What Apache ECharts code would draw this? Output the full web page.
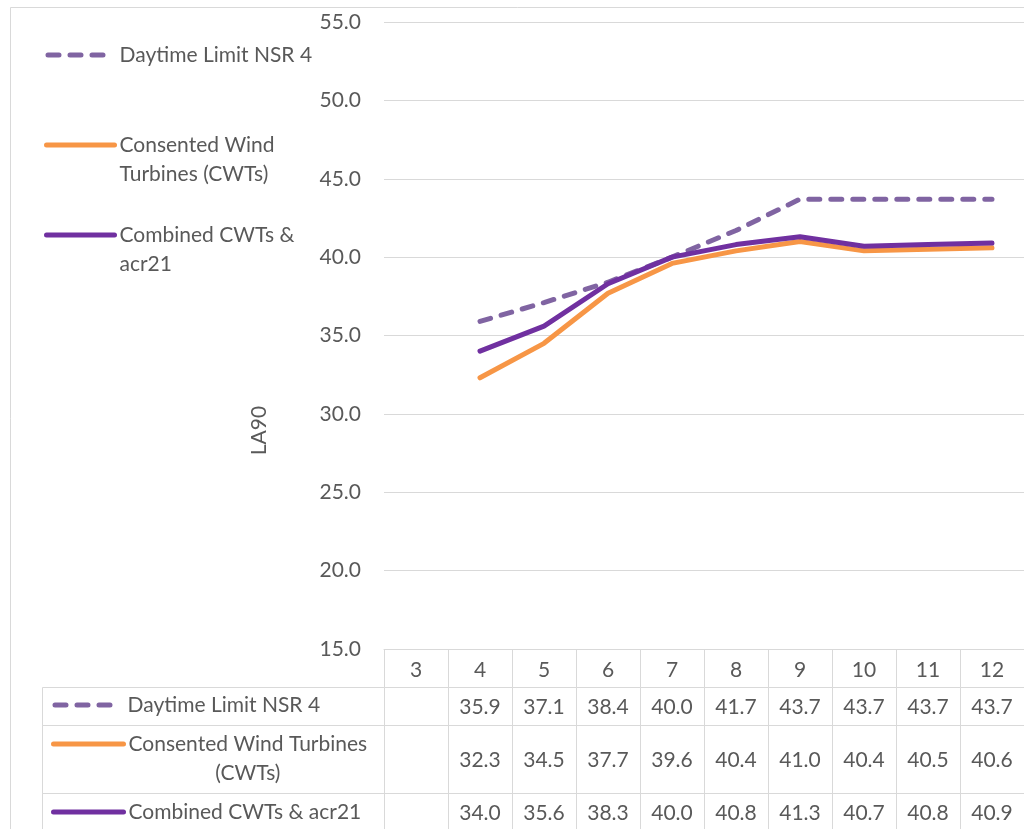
<!DOCTYPE html>
<html><head><meta charset="utf-8">
<script src="https://cdn.jsdelivr.net/npm/echarts@6/dist/echarts.min.js"></script>
<style>html,body{margin:0;padding:0;background:#fff}#c{width:1024px;height:829px}</style>
</head><body><div id="c"></div>
<script>
// ---- data ----
const categories = ['3', '4', '5', '6', '7', '8', '9', '10', '11', '12'];
const daytimeLimit = [null, 35.9, 37.1, 38.4, 40.0, 41.7, 43.7, 43.7, 43.7, 43.7];
const consented   = [null, 32.3, 34.5, 37.7, 39.6, 40.4, 41.0, 40.4, 40.5, 40.6];
const combined    = [null, 34.0, 35.6, 38.3, 40.0, 40.8, 41.3, 40.7, 40.8, 40.9];
const seriesNames = ['Daytime Limit NSR 4', 'Consented Wind Turbines (CWTs)', 'Combined CWTs & acr21'];
const yMin = 15, yMax = 55, yStep = 5;

// ---- style ----
const FONT = 'Lato';
const FS = 21;
const TXT = '#595959';
const GRID = '#D9D9D9';
const COLORS = ['#8064A2', '#F79646', '#7030A0'];
const DASH = [11, 11];
const HEADER_H = 38;
const ROW_H = [38, 68, 38];
const LABEL_LEFT = 42.5;

const rowValues = [daytimeLimit, consented, combined];

function renderTable(params, api) {
  const i = api.value(0);
  const p = api.coord([i, yMin]);
  const bw = api.size([1, 0])[0];
  const x0 = Math.round(p[0] - bw / 2) + 0.5;
  const w = Math.round(bw);
  let y = Math.round(p[1] + HEADER_H) + 0.5;
  const children = [];
  rowValues.forEach((vals, k) => {
    const h = ROW_H[k];
    children.push({type: 'rect', shape: {x: x0, y: y, width: w, height: h},
      style: {fill: 'none', stroke: GRID, lineWidth: 1}});
    if (i === 0) {
      children.push({type: 'rect', shape: {x: LABEL_LEFT, y: y, width: x0 - LABEL_LEFT, height: h},
        style: {fill: 'none', stroke: GRID, lineWidth: 1}});
    }
    const v = vals[i];
    if (v != null) {
      children.push({type: 'text', style: {text: v.toFixed(1), x: p[0], y: y + h / 2 + 1,
        align: 'center', verticalAlign: 'middle', fontFamily: FONT, fontSize: FS, fill: TXT}});
    }
    y += h;
  });
  return {type: 'group', children: children};
}

function legendItem(seriesIdx, left, top, itemWidth, padLeft, formatterText, multi) {
  const rich = {
    a: {fontFamily: FONT, fontSize: FS, color: TXT, lineHeight: 29},
    c: {fontFamily: FONT, fontSize: FS, color: TXT, lineHeight: 29, align: 'center'}
  };
  return {
    data: [seriesNames[seriesIdx]],
    left: left, top: top, padding: 0,
    orient: 'vertical',
    itemWidth: itemWidth, itemHeight: 14,
    selectedMode: false,
    formatter: () => formatterText,
    itemStyle: {opacity: 0, borderWidth: 0},
    lineStyle: {width: 5, cap: 'round'},
    textStyle: {fontFamily: FONT, fontSize: FS, color: TXT, lineHeight: 29,
      padding: multi ? [29, 0, 0, padLeft] : [0, 0, 0, padLeft], rich: rich}
  };
}

const chart = echarts.init(document.getElementById('c'));
chart.setOption({
  animation: false,
  backgroundColor: '#fff',
  textStyle: {fontFamily: FONT},
  graphic: [{type: 'rect', shape: {x: 10.5, y: 7.5, width: 2000, height: 2000},
    style: {fill: 'none', stroke: GRID, lineWidth: 1}, silent: true, z: -10}],
  legend: [
    legendItem(0, 45.5, 40.5, 60, 6.5, '{a|Daytime Limit NSR 4}', false),
    legendItem(1, 44, 101.5, 68, 0, '{a|Consented Wind}\n{a|Turbines (CWTs)}', true),
    legendItem(2, 44, 191.5, 68, 0, '{a|Combined CWTs &}\n{a|acr21}', true),
    legendItem(0, 52.5, 690.5, 60, 7.5, '{a|Daytime Limit NSR 4}', false),
    legendItem(1, 51, 700.5, 70, 0, '{a|Consented Wind Turbines}\n{c|(CWTs)}', true),
    legendItem(2, 51, 797.5, 70, 0, '{a|Combined CWTs & acr21}', false)
  ],
  grid: {left: 384, top: 22, width: 650, height: 627, containLabel: false},
  xAxis: {
    type: 'category', data: categories, boundaryGap: true,
    axisLine: {show: true, lineStyle: {color: GRID, width: 1}},
    axisTick: {show: true, length: HEADER_H, alignWithLabel: false, lineStyle: {color: GRID}},
    axisLabel: {color: TXT, fontFamily: FONT, fontSize: FS, margin: 11, interval: 0},
    splitLine: {show: false}
  },
  yAxis: {
    type: 'value', min: yMin, max: yMax, interval: yStep,
    name: 'LA90', nameLocation: 'middle', nameRotate: 90, nameGap: 114,
    nameTextStyle: {color: TXT, fontFamily: FONT, fontSize: FS, padding: [0, 190, 0, 0]},
    axisLine: {show: false}, axisTick: {show: false},
    axisLabel: {color: TXT, fontFamily: FONT, fontSize: FS, margin: 23, formatter: v => v.toFixed(1)},
    splitLine: {show: true, lineStyle: {color: GRID, width: 1}}
  },
  series: [
    {name: seriesNames[0], type: 'line', data: daytimeLimit, symbol: 'none', connectNulls: false,
      lineStyle: {color: COLORS[0], width: 5, type: DASH, cap: 'round'}, itemStyle: {color: COLORS[0]}, z: 3},
    {name: seriesNames[1], type: 'line', data: consented, symbol: 'none',
      lineStyle: {color: COLORS[1], width: 5, cap: 'round'}, itemStyle: {color: COLORS[1]}, z: 4},
    {name: seriesNames[2], type: 'line', data: combined, symbol: 'none',
      lineStyle: {color: COLORS[2], width: 5, cap: 'round'}, itemStyle: {color: COLORS[2]}, z: 5},
    {name: 'table', type: 'custom', renderItem: renderTable, silent: true,
      data: categories.map((c, i) => [i, yMin]), encode: {x: 0, y: 1}, z: 1}
  ]
});
</script></body></html>
